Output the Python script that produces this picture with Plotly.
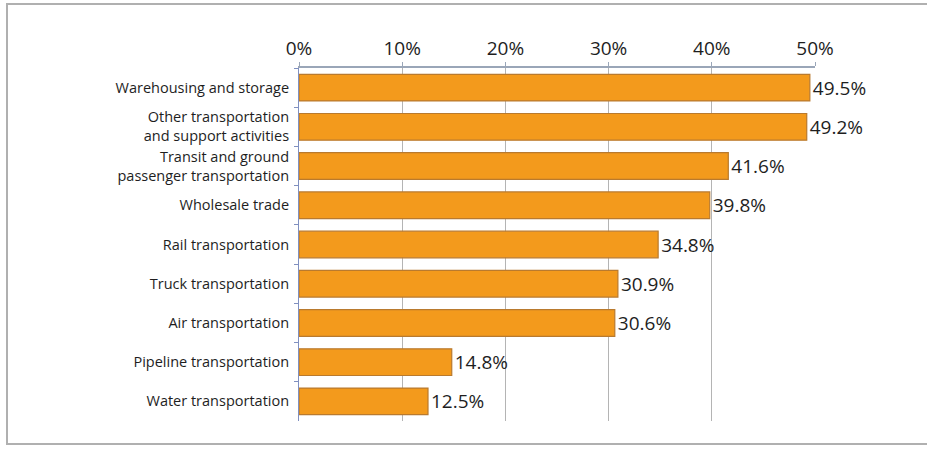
import plotly.graph_objects as go

categories = [
    "Warehousing and storage",
    "Other transportation<br>and support activities",
    "Transit and ground<br>passenger transportation",
    "Wholesale trade",
    "Rail transportation",
    "Truck transportation",
    "Air transportation",
    "Pipeline transportation",
    "Water transportation",
]
values = [0.495, 0.492, 0.416, 0.398, 0.348, 0.309, 0.306, 0.148, 0.125]
x_ticks = [0, 0.1, 0.2, 0.3, 0.4, 0.5]
x_tick_labels = ["0%", "10%", "20%", "30%", "40%", "50%"]

FONT = "Open Sans"
TXT = "#1e1e1e"

fig = go.Figure(
    go.Bar(
        x=values,
        y=categories,
        orientation="h",
        marker=dict(color="#F39A1C", line=dict(color="#B97A2E", width=1.2)),
        texttemplate="%{x:.1%}",
        textposition="outside",
        textfont=dict(family=FONT, size=19, color=TXT),
        cliponaxis=False,
        width=0.68,
    )
)

L, R, T, B = 299, 112, 68, 33
W, H = 927, 454
pw, ph = W - L - R, H - T - B

fig.update_layout(
    width=W,
    height=H,
    margin=dict(l=L, r=R, t=T, b=B),
    paper_bgcolor="white",
    plot_bgcolor="white",
    showlegend=False,
    font=dict(family=FONT, size=19, color=TXT),
    xaxis=dict(
        side="top",
        range=[0, 0.5],
        tickvals=x_ticks,
        ticktext=x_tick_labels,
        showgrid=True,
        gridcolor="#b4b4b4",
        gridwidth=1,
        showline=True,
        linecolor="#9aa6b8",
        linewidth=1.5,
        ticks="outside",
        ticklen=4,
        tickcolor="#9aa6b8",
        zeroline=False,
        tickfont=dict(family=FONT, size=19, color=TXT),
    ),
    yaxis=dict(
        autorange="reversed",
        showline=True,
        linecolor="#8090c0",
        linewidth=1,
        ticks="outside",
        tickson="boundaries",
        ticklen=4,
        tickcolor="#8090c0",
        showgrid=False,
        tickfont=dict(family=FONT, size=14.5, color=TXT),
        ticklabelstandoff=6,
    ),
    shapes=[
        dict(
            type="rect",
            xref="paper",
            yref="paper",
            x0=(7 - L) / pw,
            x1=(935 - L) / pw,
            y0=(H - B - 444) / ph,
            y1=1 + (T - 4) / ph,
            line=dict(color="#b0b0b0", width=2),
            fillcolor="rgba(0,0,0,0)",
            layer="below",
        )
    ],
)

fig.write_html("out.html")
